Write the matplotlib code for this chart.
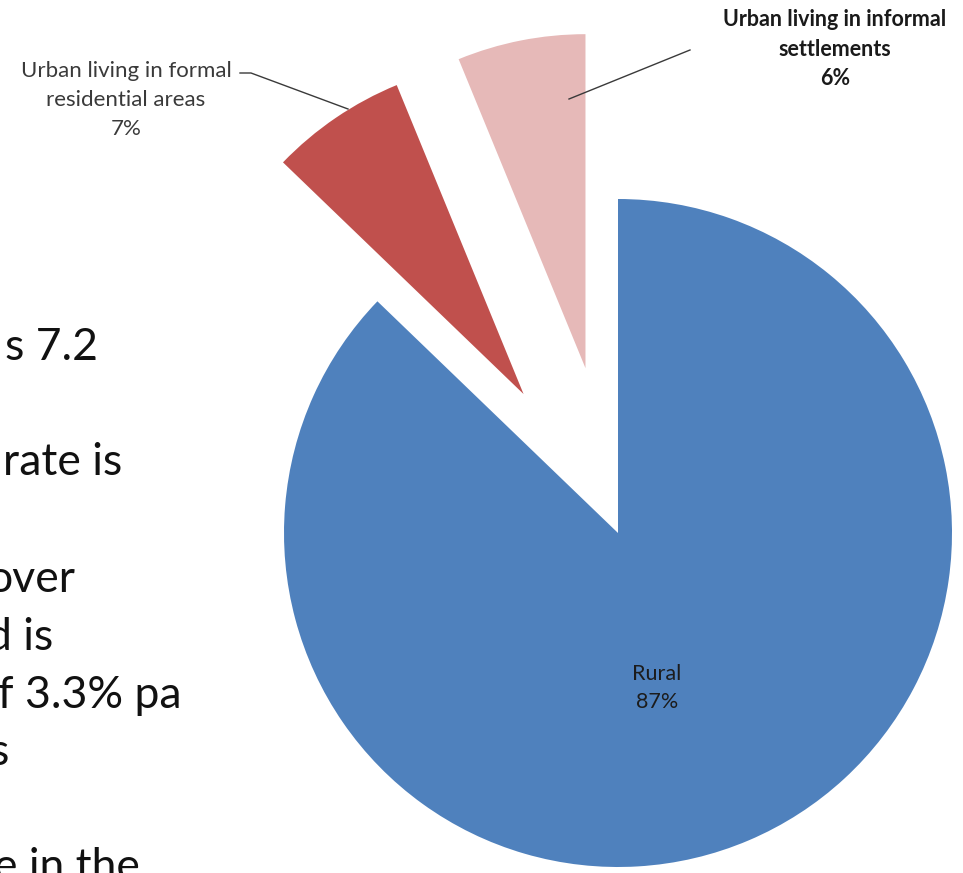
import matplotlib
matplotlib.use("Agg")
import matplotlib.pyplot as plt

# ---- data ----
categories = ["Rural",
              "Urban living in formal\nresidential areas",
              "Urban living in informal\nsettlements"]
values = [87.2, 6.6, 6.2]
colors = ["#4F81BD", "#C0504D", "#E6B9B8"]
explode_px = [0, 168, 168]

# partially visible slide text (cut at the left edge of the picture)
slide_lines = ["s 7.2", "rate is", "over", "d is", "f 3.3% pa", "s", "e in the"]

W, H = 963, 873
FONT = "Lato"

fig = plt.figure(figsize=(W / 100, H / 100), dpi=100)
ax = fig.add_axes([0, 0, 1, 1])


def Y(y_img):
    return H - y_img


wedges, _ = ax.pie(values, colors=colors, startangle=90, counterclock=False,
                   explode=explode_px, radius=334, center=(618, Y(533)),
                   wedgeprops=dict(linewidth=0), frame=True)
ax.set_xlim(0, W)
ax.set_ylim(0, H)
ax.set_aspect("auto")
ax.axis("off")

pct = [f"{round(v)}%" for v in values]

# Rural label (inside)
ax.text(657, Y(688), f"{categories[0]}\n{pct[0]}", ha="center", va="center",
        fontsize=15.5, family=FONT, color="#1c1c1c", linespacing=1.5)

# Formal label + leader
ax.text(126, Y(100), f"{categories[1]}\n{pct[1]}", ha="center", va="center",
        fontsize=16, family=FONT, color="#3a3a3a", linespacing=1.55)
ax.plot([240, 251, 348], [Y(73), Y(73), Y(109)], color="#3a3a3a", lw=1)

# Informal label + leader (bold)
ax.text(835, Y(49), f"{categories[2]}\n{pct[2]}", ha="center", va="center",
        fontsize=15.5, family=FONT, fontweight="bold", color="#1a1a1a",
        linespacing=1.5)
ax.plot([569, 690], [Y(99), Y(50)], color="#3a3a3a", lw=1)

# slide body text fragments
right_x = [98, 122, 75, 53, 182, 9, 140]
baselines = [360, 475, 592, 650, 708, 765, 880]
for t, xr, yb in zip(slide_lines, right_x, baselines):
    ax.text(xr, Y(yb), t, ha="right", va="baseline", fontsize=32,
            family=FONT, color="#111111", clip_on=False)

fig.savefig("out.png", dpi=100)
